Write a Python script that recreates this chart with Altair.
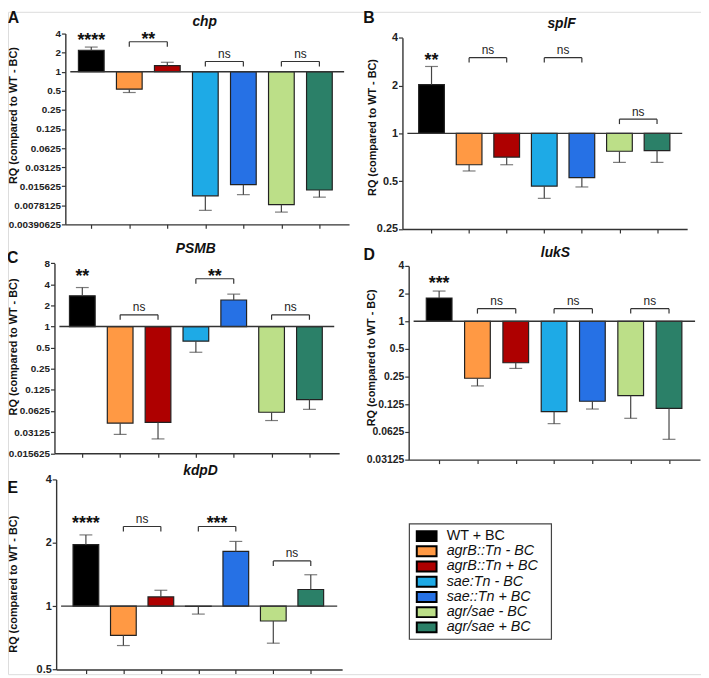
import altair as alt
import pandas as pd

# ---------------- data ----------------
groups = ["WT + BC", "agrB::Tn - BC", "agrB::Tn + BC", "sae:Tn - BC",
          "sae::Tn + BC", "agr/sae - BC", "agr/sae + BC"]
colors = ["#000000", "#FF9944", "#AE0000", "#1EAAE6", "#2671E5", "#BCDF88", "#2B8068"]
positions = [1, 2, 3, 4, 5, 6, 7]

chp_rq = [2.18, 0.53, 1.25, 0.011, 0.0165, 0.0080, 0.0136]
chp_err = [2.45, 0.47, 1.41, 0.0065, 0.0115, 0.0061, 0.0105]
splF_rq = [2.03, 0.635, 0.71, 0.466, 0.527, 0.772, 0.78]
splF_err = [2.64, 0.58, 0.635, 0.39, 0.46, 0.657, 0.657]
psmb_rq = [2.74, 0.042, 0.043, 0.62, 2.39, 0.06, 0.091]
psmb_err = [3.6, 0.029, 0.025, 0.43, 2.9, 0.0457, 0.066]
luks_rq = [1.79, 0.24, 0.354, 0.104, 0.135, 0.155, 0.113]
luks_err = [2.13, 0.198, 0.307, 0.077, 0.111, 0.088, 0.052]
kdpd_rq = [1.96, 0.727, 1.106, 0.998, 1.82, 0.85, 1.2]
kdpd_err = [2.18, 0.65, 1.19, 0.917, 2.03, 0.667, 1.41]

# y-axis tick values
chp_ticks = [4, 2, 1, 0.5, 0.25, 0.125, 0.0625, 0.03125, 0.015625, 0.0078125, 0.00390625]
splF_ticks = [4, 2, 1, 0.5, 0.25]
psmb_ticks = [8, 4, 2, 1, 0.5, 0.25, 0.125, 0.0625, 0.03125, 0.015625]
luks_ticks = [4, 2, 1, 0.5, 0.25, 0.125, 0.0625, 0.03125]
kdpd_ticks = [4, 2, 1, 0.5]

# significance annotations: lone stars (bar, level, label) and brackets (bar1, bar2, level, label)
chp_stars = [(1, 3.64, "****")]
chp_brackets = [(2, 3, 2.97, "**"), (4, 5, 1.45, "ns"), (6, 7, 1.45, "ns")]
splF_stars = [(1, 3.05, "**")]
splF_brackets = [(2, 3, 3.0, "ns"), (4, 5, 3.0, "ns"), (6, 7, 1.23, "ns")]
psmb_stars = [(1, 6.07, "**")]
psmb_brackets = [(2, 3, 1.47, "ns"), (4, 5, 4.8, "**"), (6, 7, 1.47, "ns")]
luks_stars = [(1, 2.85, "***")]
luks_brackets = [(2, 3, 1.37, "ns"), (4, 5, 1.37, "ns"), (6, 7, 1.37, "ns")]
kdpd_stars = [(1, 2.6, "****")]
kdpd_brackets = [(2, 3, 2.39, "ns"), (4, 5, 2.39, "***"), (6, 7, 1.64, "ns")]

FONT = "Liberation Sans"
W, H = 701, 670
YTITLE = "RQ (compared to WT - BC)"
color_scale = alt.Scale(domain=groups, range=colors)
dummy = pd.DataFrame({"d": [0]})


def panel(rq, err, ticks, stars, brackets, xdom, xrange, ydom, yrange, lsize=11):
    df = pd.DataFrame({"group": groups, "pos": positions, "rq": rq, "err": err})
    df["base"] = 1.0
    xs = alt.Scale(domain=xdom, range=xrange, nice=False, zero=False)
    ys = alt.Scale(type="log", domain=ydom, range=yrange, nice=False)
    xaxis = alt.Axis(orient="bottom", offset=yrange[0] - H, values=positions, labels=False,
                     ticks=True, tickSize=4, tickColor="#333", tickWidth=1.2,
                     domainColor="#333", domainWidth=1.4, grid=False, title=None)
    yaxis = alt.Axis(orient="left", offset=-xrange[0], values=ticks, labelExpr="'' + datum.value",
                     labelFont=FONT, labelFontSize=lsize, labelFontWeight="bold", labelColor="#222",
                     labelOverlap=False, labelPadding=1, tickSize=4, tickColor="#333", tickWidth=1.2,
                     domainColor="#333", domainWidth=1.4, grid=False, title=None)
    base = alt.Chart(df)
    bars = base.mark_bar(size=26, stroke="#222", strokeWidth=1.2).encode(
        x=alt.X("pos:Q", scale=xs, axis=xaxis),
        y=alt.Y("rq:Q", scale=ys, axis=yaxis),
        y2="base:Q",
        color=alt.Color("group:N", scale=color_scale, legend=None),
    )
    errline = base.mark_rule(color="#444", strokeWidth=1.2).encode(
        x="pos:Q", y="rq:Q", y2="err:Q")
    caps = base.mark_tick(orient="horizontal", size=13, thickness=1.2, color="#444").encode(
        x="pos:Q", y="err:Q")
    baseline = alt.Chart(dummy).mark_rule(color="#333", strokeWidth=1.4).encode(
        x=alt.X(datum=xdom[0]), x2=alt.X2(datum=xdom[1]), y=alt.Y(datum=1))

    sdf = pd.DataFrame(stars, columns=["pos", "level", "label"])
    bdf = pd.DataFrame(brackets, columns=["x1", "x2", "level", "label"])
    bdf["mid"] = (bdf["x1"] + bdf["x2"]) / 2

    star_txt = alt.Chart(sdf).mark_text(font=FONT, fontSize=18, fontWeight="bold",
                                        baseline="middle", dy=5, color="#111").encode(
        x="pos:Q", y="level:Q", text="label:N")
    bch = alt.Chart(bdf)
    br_h = bch.mark_rule(color="#333", strokeWidth=1.2).encode(x="x1:Q", x2="x2:Q", y="level:Q")
    br_l = bch.mark_rule(color="#333", strokeWidth=1.2, y2Offset=5).encode(
        x="x1:Q", y="level:Q", y2="level:Q")
    br_r = bch.mark_rule(color="#333", strokeWidth=1.2, y2Offset=5).encode(
        x="x2:Q", y="level:Q", y2="level:Q")
    br_ns = bch.transform_filter("datum.label == 'ns'").mark_text(
        font=FONT, fontSize=12, baseline="middle", dy=-7.5, color="#222").encode(
        x="mid:Q", y="level:Q", text="label:N")
    br_st = bch.transform_filter("datum.label != 'ns'").mark_text(
        font=FONT, fontSize=18, fontWeight="bold", baseline="middle", dy=-2, color="#111").encode(
        x="mid:Q", y="level:Q", text="label:N")
    return alt.layer(bars, errline, caps, baseline, br_h, br_l, br_r, star_txt, br_ns, br_st)


pA = panel(chp_rq, chp_err, chp_ticks, chp_stars, chp_brackets,
           [0.448, 7.65], [58, 345], [0.00390625, 4], [215, 22], lsize=10)
pB = panel(splF_rq, splF_err, splF_ticks, splF_stars, splF_brackets,
           [0.358, 7.67], [399, 687], [0.25, 4], [219.7, 26.3])
pC = panel(psmb_rq, psmb_err, psmb_ticks, psmb_stars, psmb_brackets,
           [0.395, 7.655], [47, 335], [0.015625, 8], [446.5, 254.3], lsize=10)
pD = panel(luks_rq, luks_err, luks_ticks, luks_stars, luks_brackets,
           [0.334, 7.68], [405.3, 700], [0.03125, 4], [453, 257], lsize=10.5)
pE = panel(kdpd_rq, kdpd_err, kdpd_ticks, kdpd_stars, kdpd_brackets,
           [0.338, 7.705], [48.7, 338], [0.5, 4], [665.3, 473])


def label(text, x, y, size, italic=False, angle=0):
    return alt.Chart(dummy).mark_text(
        text=text, font=FONT, fontSize=size, fontWeight="bold",
        fontStyle="italic" if italic else "normal", align="center", baseline="middle",
        angle=angle, color="#111").encode(x=alt.value(x), y=alt.value(y))


titles = [
    label("chp", 199, 10, 14, True), label("splF", 560, 12.7, 14, True),
    label("PSMB", 190, 240.3, 14, True), label("lukS", 553.7, 244.3, 14, True),
    label("kdpD", 194.7, 464.7, 14, True),
    label("A", 5.5, 6.5, 16), label("B", 365, 6.5, 16), label("C", 4.7, 248.7, 16),
    label("D", 365.3, 246.3, 16), label("E", 4.7, 481.3, 16),
    label(YTITLE, 6.5, 105, 11, angle=270), label(YTITLE, 369.5, 117, 11, angle=270),
    label(YTITLE, 6.2, 339, 11, angle=270), label(YTITLE, 368, 350, 11, angle=270),
    label(YTITLE, 6.2, 579, 11, angle=270),
]

# ---------------- legend ----------------
leg = pd.DataFrame({"group": groups, "idx": list(range(len(groups)))})
ly = alt.Y("idx:Q", scale=alt.Scale(domain=[0, 6], range=[530.3, 622.7], nice=False, zero=False),
           axis=None)
leg_box = alt.Chart(dummy).mark_rect(fill="white", stroke="#444", strokeWidth=1.2).encode(
    x=alt.value(406), x2=alt.value(549.7), y=alt.value(518), y2=alt.value(634.7))
leg_sw = alt.Chart(leg).mark_point(
    shape="M-1,-0.5L1,-0.5L1,0.5L-1,0.5Z", size=400, filled=True, opacity=1,
    stroke="#000", strokeWidth=2).encode(
    x=alt.value(423.5), y=ly, color=alt.Color("group:N", scale=color_scale, legend=None))
leg_t1 = alt.Chart(leg).transform_filter("datum.idx == 0").mark_text(
    font=FONT, fontSize=14.5, align="left", baseline="middle", color="#111").encode(
    x=alt.value(443.7), y=ly, text="group:N")
leg_t2 = alt.Chart(leg).transform_filter("datum.idx > 0").mark_text(
    font=FONT, fontSize=14.5, fontStyle="italic", align="left", baseline="middle",
    color="#111").encode(x=alt.value(443.7), y=ly, text="group:N")
legend = alt.layer(leg_sw, leg_t1, leg_t2)

chart = alt.layer(pA, pB, pC, pD, pE, leg_box, legend, *titles).resolve_scale(
    x="independent", y="independent"
).properties(
    width=W, height=H, autosize=alt.AutoSizeParams(type="none"), padding=0
).configure_view(stroke=None).configure(font=FONT, background="white")

chart.save("out.html", embed_options={"renderer": "svg", "actions": False})
